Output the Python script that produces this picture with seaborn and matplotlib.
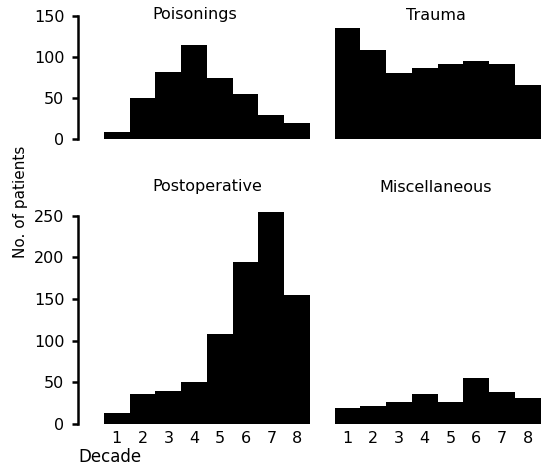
import matplotlib
matplotlib.use("Agg")
import matplotlib.pyplot as plt
import seaborn as sns
import pandas as pd

decades = [1, 2, 3, 4, 5, 6, 7, 8]
poisonings = [9, 50, 82, 115, 75, 55, 29, 19]
trauma = [135, 109, 80, 87, 91, 95, 91, 66]
postoperative = [13, 36, 40, 50, 108, 195, 254, 155]
miscellaneous = [19, 22, 27, 36, 27, 55, 39, 31]

titles = ["Poisonings", "Trauma", "Postoperative", "Miscellaneous"]
top_yticks = [0, 50, 100, 150]
bottom_yticks = [0, 50, 100, 150, 200, 250]

sns.set_style("white")
plt.rcParams['font.family'] = ['DejaVu Sans']
plt.rcParams['text.color'] = 'black'

W, H = 541, 467
fig = plt.figure(figsize=(W / 100, H / 100), dpi=100)


def px_axes(left, top, width, height):
    return fig.add_axes([left / W, 1 - (top + height) / H, width / W, height / H])


unit = 25.75
ax_tl = px_axes(104 - unit, 16, 9 * unit, 123)
ax_tr = px_axes(334.5, 16, 8 * unit, 123)
ax_bl = px_axes(104 - unit, 424 - 216.6, 9 * unit, 216.6)
ax_br = px_axes(334.5, 424 - 216.6, 8 * unit, 216.6)

series = [poisonings, trauma, postoperative, miscellaneous]
axes = [ax_tl, ax_tr, ax_bl, ax_br]

for ax, vals in zip(axes, series):
    df = pd.DataFrame({"decade": [str(d) for d in decades], "n": vals})
    sns.barplot(data=df, x="decade", y="n", ax=ax, color="black",
                width=1.0, saturation=1, linewidth=0)
    ax.set_xlabel("")
    ax.set_ylabel("")
    for s in ax.spines.values():
        s.set_visible(False)
    ax.set_facecolor("none")

# x limits
ax_tl.set_xlim(-1.5, 7.5)
ax_bl.set_xlim(-1.5, 7.5)
ax_tr.set_xlim(-0.5, 7.5)
ax_br.set_xlim(-0.5, 7.5)

# y limits
ax_tl.set_ylim(0, 150)
ax_tr.set_ylim(0, 150)
ax_bl.set_ylim(0, 260)
ax_br.set_ylim(0, 260)

# left spines
for ax, ticks in [(ax_tl, top_yticks), (ax_bl, bottom_yticks)]:
    ax.spines['left'].set_visible(True)
    ax.spines['left'].set_color("black")
    ax.spines['left'].set_linewidth(1.8)
    ax.spines['left'].set_bounds(ticks[0], ticks[-1])
    ax.set_yticks(ticks)
    ax.set_yticklabels([str(t) for t in ticks])
    ax.tick_params(axis='y', left=True, length=4, width=1.8, pad=6,
                   labelsize=11.5, colors="black")

for ax in [ax_tr, ax_br]:
    ax.set_yticks([])

for ax in [ax_tl, ax_tr]:
    ax.set_xticks([])

for ax in [ax_bl, ax_br]:
    ax.set_xticks(range(len(decades)))
    ax.set_xticklabels([str(d) for d in decades])
    ax.tick_params(axis='x', bottom=False, length=0, pad=5,
                   labelsize=11.5, colors="black")

# titles
title_pos = [(195, 15), (436, 15), (207, 187), (436, 187)]
for t, (x, y) in zip(titles, title_pos):
    fig.text(x / W, 1 - y / H, t, ha="center", va="center", fontsize=11.5,
             color="black")

fig.text(21 / W, 1 - 202 / H, "No. of patients", rotation=90,
         ha="center", va="center", fontsize=11, color="black")
fig.text(78 / W, 1 - 457 / H, "Decade", ha="left", va="center", fontsize=12,
         color="black")

fig.savefig("out.png", dpi=100)
